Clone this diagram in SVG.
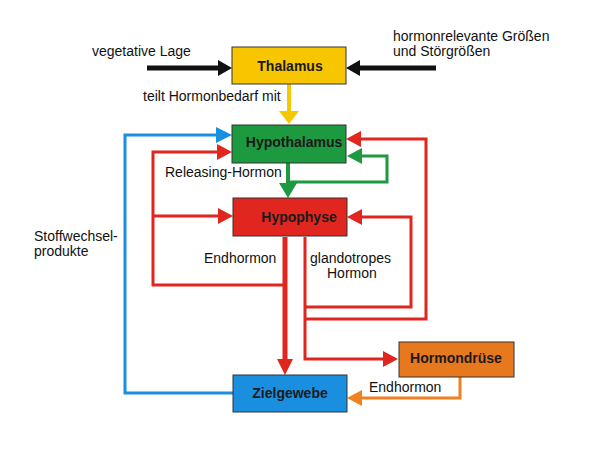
<svg xmlns="http://www.w3.org/2000/svg" width="599" height="453" viewBox="0 0 599 453">
<style>
.box{stroke:#333;stroke-width:1}
.lbl{font-family:"Liberation Sans",Arial,sans-serif;font-size:14px;fill:#111}
.bl{font-family:"Liberation Sans",Arial,sans-serif;font-size:14px;font-weight:bold;fill:#1a1a1a;text-anchor:middle}
.ln{fill:none;stroke-linejoin:miter}
.red{stroke:#e0261e}
</style>
<rect width="599" height="453" fill="#fff"/>
<g id="connectors">
  <!-- black inputs -->
  <path class="ln" d="M147,68 H220" stroke="#111" stroke-width="5"/>
  <polygon points="232,68 218,60 218,76" fill="#111"/>
  <path class="ln" d="M436,68 H358" stroke="#111" stroke-width="5"/>
  <polygon points="346,68 360,60 360,76" fill="#111"/>
  <!-- yellow -->
  <path class="ln" d="M289,84 V113" stroke="#f5c800" stroke-width="4"/>
  <polygon points="289,124 279,111 299,111" fill="#f5c800"/>
  <!-- blue feedback -->
  <path class="ln" d="M233,393 H125 V135 H218" stroke="#1a8fe0" stroke-width="3"/>
  <polygon points="232,135 216,127 216,143" fill="#1a8fe0"/>
  <!-- green -->
  <path class="ln" d="M288,163 V186" stroke="#1d9940" stroke-width="4"/>
  <polygon points="288,198 279,183 297,183" fill="#1d9940"/>
  <path class="ln" d="M288,182 H387 V156 H360" stroke="#1d9940" stroke-width="3"/>
  <polygon points="347,156 362,148 362,164" fill="#1d9940"/>
  <!-- red left -->
  <path class="ln red" d="M285,285 H153 V152 H218" stroke-width="3"/>
  <polygon points="232,152 217,144 217,160" fill="#e0261e"/>
  <path class="ln red" d="M153,216 H219" stroke-width="3"/>
  <polygon points="233,216 218,208 218,224" fill="#e0261e"/>
  <!-- red main down -->
  <path class="ln red" d="M285,237 V362" stroke-width="5"/>
  <polygon points="285,375 277,359 293,359" fill="#e0261e"/>
  <!-- red right -->
  <path class="ln red" d="M305,237 V359 H385" stroke-width="3"/>
  <polygon points="398,359 383,351 383,367" fill="#e0261e"/>
  <path class="ln red" d="M305,307 H411 V217 H361" stroke-width="3"/>
  <polygon points="347,217 362,209 362,225" fill="#e0261e"/>
  <path class="ln red" d="M305,319 H426 V139 H360" stroke-width="3"/>
  <polygon points="346,139 361,131 361,147" fill="#e0261e"/>
  <!-- orange -->
  <path class="ln" d="M460,377 V398 H361" stroke="#f08020" stroke-width="3"/>
  <polygon points="347,398 362,390 362,406" fill="#f08020"/>
</g>
<g id="thalamus">
  <rect class="box" x="232" y="47" width="114" height="37" fill="#f7c600"/>
  <text class="bl" x="290" y="71">Thalamus</text>
</g>
<g id="hypothalamus">
  <rect class="box" x="232" y="125" width="114" height="38" fill="#1d9940"/>
  <text class="bl" x="294" y="147">Hypothalamus</text>
</g>
<g id="hypophyse">
  <rect class="box" x="233" y="198" width="114" height="38" fill="#e0261e"/>
  <text class="bl" x="299" y="222">Hypophyse</text>
</g>
<g id="zielgewebe">
  <rect class="box" x="233" y="375" width="114" height="37" fill="#1a8fe0"/>
  <text class="bl" x="290" y="398">Zielgewebe</text>
</g>
<g id="hormondruese">
  <rect class="box" x="399" y="342" width="115" height="35" fill="#e8781e"/>
  <text class="bl" x="456" y="363">Hormondrüse</text>
</g>
<g id="labels">
  <text class="lbl" x="92" y="56">vegetative Lage</text>
  <text class="lbl" x="393" y="41">hormonrelevante Größen</text>
  <text class="lbl" x="393" y="56">und Störgrößen</text>
  <text class="lbl" x="143" y="101">teilt Hormonbedarf mit</text>
  <text class="lbl" x="165" y="177">Releasing-Hormon</text>
  <text class="lbl" x="34" y="241">Stoffwechsel-</text>
  <text class="lbl" x="34" y="256">produkte</text>
  <text class="lbl" x="204" y="263">Endhormon</text>
  <text class="lbl" x="310" y="263">glandotropes</text>
  <text class="lbl" x="327" y="278">Hormon</text>
  <text class="lbl" x="369" y="392">Endhormon</text>
</g>
</svg>
